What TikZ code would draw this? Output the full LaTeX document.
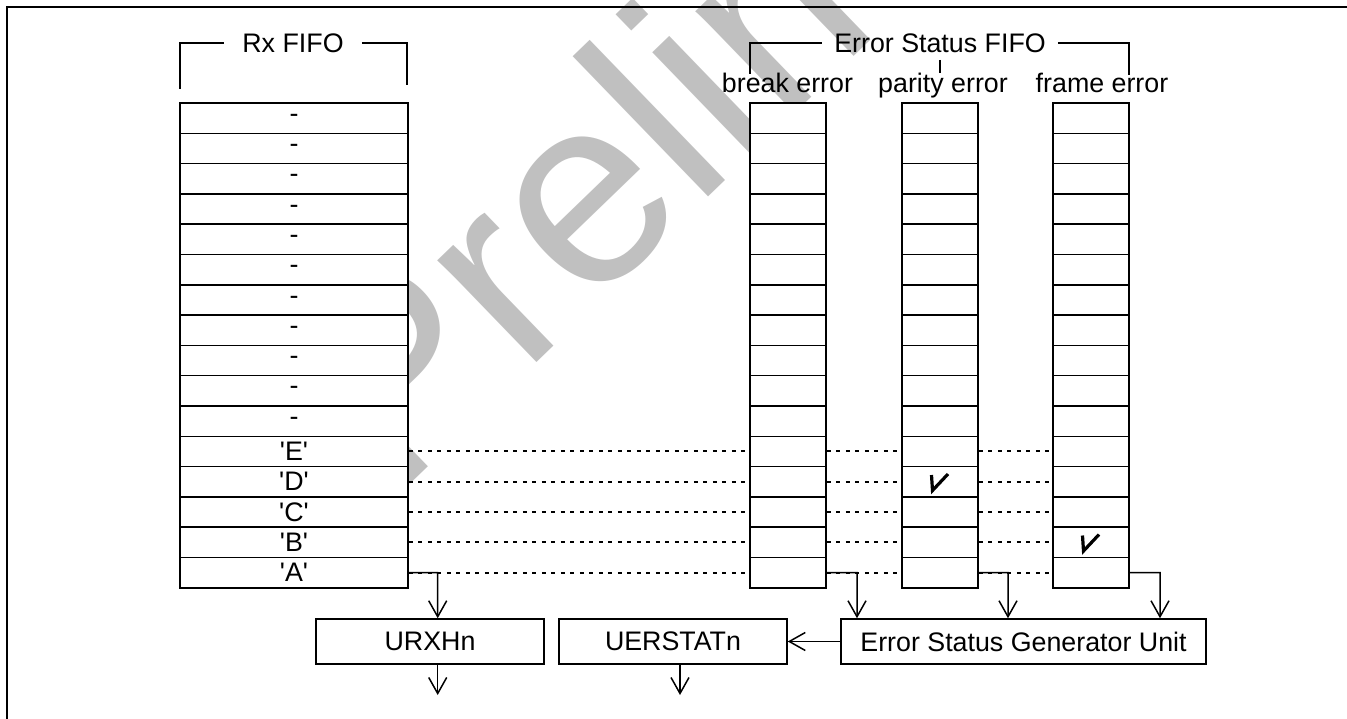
\documentclass[tikz,border=0pt]{standalone}
\usepackage{fontspec}
\newfontfamily\arialf{Liberation Sans}
\usetikzlibrary{arrows.meta}
\definecolor{wm}{HTML}{C0C0C0}
\begin{document}
\begin{tikzpicture}[x=1pt,y=-1pt,
  font=\arialf\fontsize{26.8}{32}\selectfont,
  cell/.style={draw, line width=1.5pt, fill=white, inner sep=0pt, minimum height=30.3pt},
  rxcell/.style={cell, minimum width=228pt},
  ecell/.style={cell, minimum width=76pt},
  unit/.style={draw, line width=1.5pt, fill=white, inner sep=0pt, minimum height=45pt},
  link/.style={line width=2pt, dash pattern=on 4pt off 5.5pt},
  arr/.style={line width=1.5pt, -{Straight Barb[length=16pt,width=18pt,line width=1.5pt]}},
  wire/.style={line width=1.5pt},
  chk/.style={line width=3.2pt}]
\useasboundingbox (0,0) rectangle (1347,719);
% watermark
\node[text=wm, anchor=base west, rotate=44, inner sep=0pt,
      font=\arialf\fontsize{269}{280}\selectfont] (wmark) at (394,500) {Preliminary};
% frame
\draw[line width=2pt] (7,719) -- (7,7.5) -- (1347,7.5);
% Rx FIFO and error status columns
\foreach \i/\t in {1/-,2/-,3/-,4/-,5/-,6/-,7/-,8/-,9/-,10/-,11/-,12/'E',13/'D',14/'C',15/'B',16/'A'}{
  \node[rxcell] (rx\i) at (294,{103+30.3*(\i-0.5)}) {\t};
  \node[ecell] (be\i) at (788,{103+30.3*(\i-0.5)}) {};
  \node[ecell] (pe\i) at (940,{103+30.3*(\i-0.5)}) {};
  \node[ecell] (fe\i) at (1091,{103+30.3*(\i-0.5)}) {};
}
% dotted links
\foreach \i in {12,...,16}{
  \draw[link] (rx\i.east) -- ([xshift=-4pt]be\i.west);
  \draw[link] (be\i.east) -- ([xshift=-2pt]pe\i.west);
  \draw[link] (pe\i.east) -- ([xshift=-3pt]fe\i.west);
}
% check marks
\draw[chk] (931.5,475) -- (932.5,490.5) -- (948,474);
\draw[chk] (1082.5,535.5) -- (1083.5,551) -- (1099,534.5);
% brackets and labels
\node[inner sep=0pt, inner xsep=18pt, minimum height=20pt] (rxl) at (293,43) {Rx FIFO};
\draw[wire] (180,89) |- (rxl.west);
\draw[wire] (rxl.east) -| (407,85);
\node[inner sep=0pt, inner xsep=12pt, minimum height=20pt] (esl) at (940,43) {Error Status FIFO};
\draw[wire] (750,74) |- (esl.west);
\draw[wire] (esl.east) -| (1129,75);
\coordinate (tk1) at (940,60);
\coordinate (tk2) at (940,73);
\draw[wire] (tk1) -- (tk2);
\node[anchor=base, inner sep=0pt] (lbe) at (787.5,93) {break error};
\node[anchor=base, inner sep=0pt] (lpe) at (943,93) {parity error};
\node[anchor=base, inner sep=0pt] (lfe) at (1102,93) {frame error};
% units
\node[unit, minimum width=228pt] (urxh) at (430,641.5) {URXHn};
\node[unit, minimum width=228pt] (uerst) at (673,641.5) {UERSTATn};
\node[unit, minimum width=365pt] (esgu) at (1023.5,641.5) {Error Status Generator Unit};
% connectors from 'A' row
\coordinate (ca) at (437.7,572.7);
\coordinate (cb) at (857,572.7);
\coordinate (cp) at (1008,572.7);
\coordinate (cf) at (1160,572.7);
\draw[arr] (rx16.east) -- (ca) -- (ca |- urxh.north);
\draw[arr] (be16.east) -- (cb) -- (cb |- esgu.north);
\draw[arr] (pe16.east) -- (cp) -- (cp |- esgu.north);
\draw[arr] (fe16.east) -- (cf) -- (cf |- esgu.north);
\draw[arr] (esgu.west) -- (uerst.east);
\coordinate (o1) at (437.7,695);
\coordinate (o2) at (680,695);
\draw[arr] (o1 |- urxh.south) -- (o1);
\draw[arr] (o2 |- uerst.south) -- (o2);
\end{tikzpicture}
\end{document}
